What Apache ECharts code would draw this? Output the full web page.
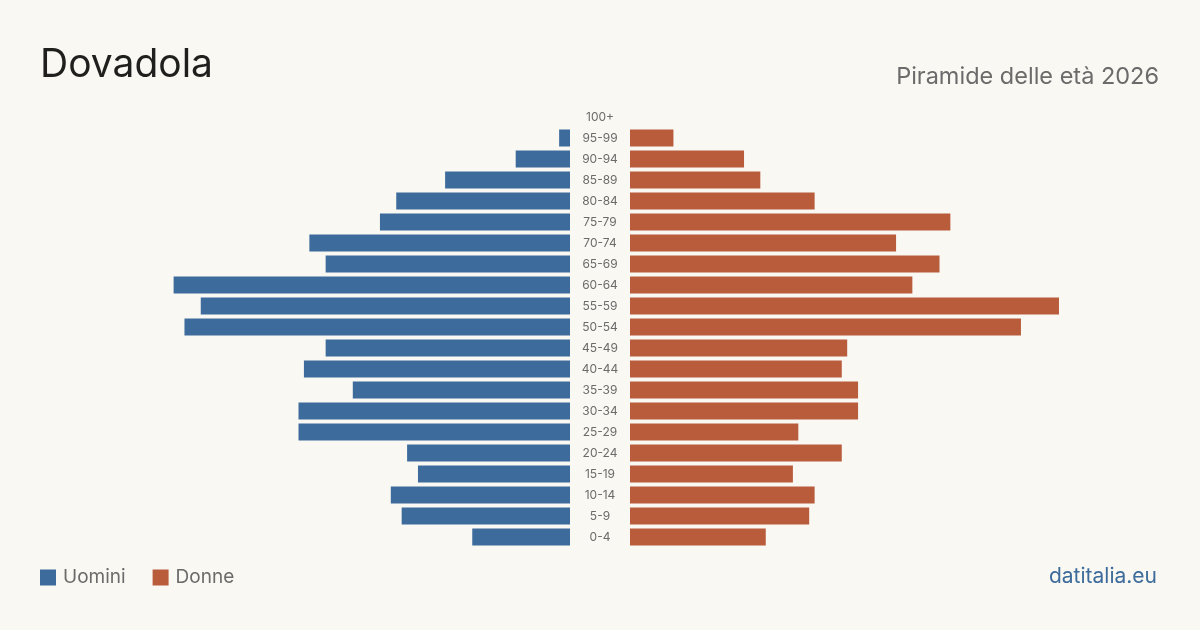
<!DOCTYPE html>
<html>
<head>
<meta charset="utf-8">
<script src="https://cdn.jsdelivr.net/npm/echarts@6/dist/echarts.min.js"></script>
<style>
  html, body { margin: 0; padding: 0; background: #f9f8f3; }
  #chart { width: 1200px; height: 630px; }
</style>
</head>
<body>
<div id="chart"></div>
<script>
// fasce d'età dall'alto in basso
const ageGroups = ['100+', '95-99', '90-94', '85-89', '80-84', '75-79', '70-74', '65-69', '60-64', '55-59',
  '50-54', '45-49', '40-44', '35-39', '30-34', '25-29', '20-24', '15-19', '10-14', '5-9', '0-4']
const uomini = [0, 2, 10, 23, 32, 35, 48, 45, 73, 68, 71, 45, 49, 40, 50, 50, 30, 28, 33, 31, 18]
const donne = [0, 8, 21, 24, 34, 59, 49, 57, 52, 79, 72, 40, 39, 42, 42, 31, 39, 30, 34, 33, 25]
const maxVal = 80

const font = 'Inter, "Noto Sans", sans-serif'
const blue = '#3d6b9b'
const red = '#b95c3c'

const chart = echarts.init(document.getElementById('chart'))

const option = {
  backgroundColor: '#f9f8f3',
  textStyle: { fontFamily: font },
  animation: false,
  title: [
    {
      text: 'Dovadola', left: 35, top: 41,
      textStyle: { fontSize: 39, fontWeight: 'normal', color: '#1f1f1d', fontFamily: font }
    },
    {
      text: 'Piramide delle età 2026', right: 36, top: 60,
      textStyle: { fontSize: 23.5, fontWeight: 'normal', color: '#6b6b6b', fontFamily: font }
    },
    {
      text: 'datitalia.eu', right: 38, top: 561,
      textStyle: { fontSize: 21, fontWeight: 'normal', color: '#3d6b9b', fontFamily: font }
    }
  ],
  legend: {
    left: 35, top: 563,
    itemWidth: 16, itemHeight: 16, itemGap: 27,
    icon: 'rect',
    textStyle: { fontSize: 19, color: '#6b6b6b', fontFamily: font, padding: [0, 0, 0, 2] },
    data: ['Uomini', 'Donne']
  },
  grid: [
    { left: 570 - maxVal * 5.43, width: maxVal * 5.43, top: 106.5, height: 441 },
    { left: 630, width: maxVal * 5.43, top: 106.5, height: 441 }
  ],
  xAxis: [
    { gridIndex: 0, type: 'value', min: 0, max: maxVal, inverse: true, show: false },
    { gridIndex: 1, type: 'value', min: 0, max: maxVal, show: false }
  ],
  yAxis: [
    {
      gridIndex: 0, type: 'category', data: ageGroups, inverse: true, position: 'right',
      axisLine: { show: false }, axisTick: { show: false },
      axisLabel: { align: 'center', margin: 30, fontSize: 12, color: '#6b6b6b', fontFamily: font }
    },
    {
      gridIndex: 1, type: 'category', data: ageGroups, inverse: true,
      axisLine: { show: false }, axisTick: { show: false }, axisLabel: { show: false }
    }
  ],
  series: [
    {
      name: 'Uomini', type: 'bar', xAxisIndex: 0, yAxisIndex: 0,
      data: uomini, barWidth: 17, itemStyle: { color: blue }
    },
    {
      name: 'Donne', type: 'bar', xAxisIndex: 1, yAxisIndex: 1,
      data: donne, barWidth: 17, itemStyle: { color: red }
    }
  ]
}

chart.setOption(option)
</script>
</body>
</html>
